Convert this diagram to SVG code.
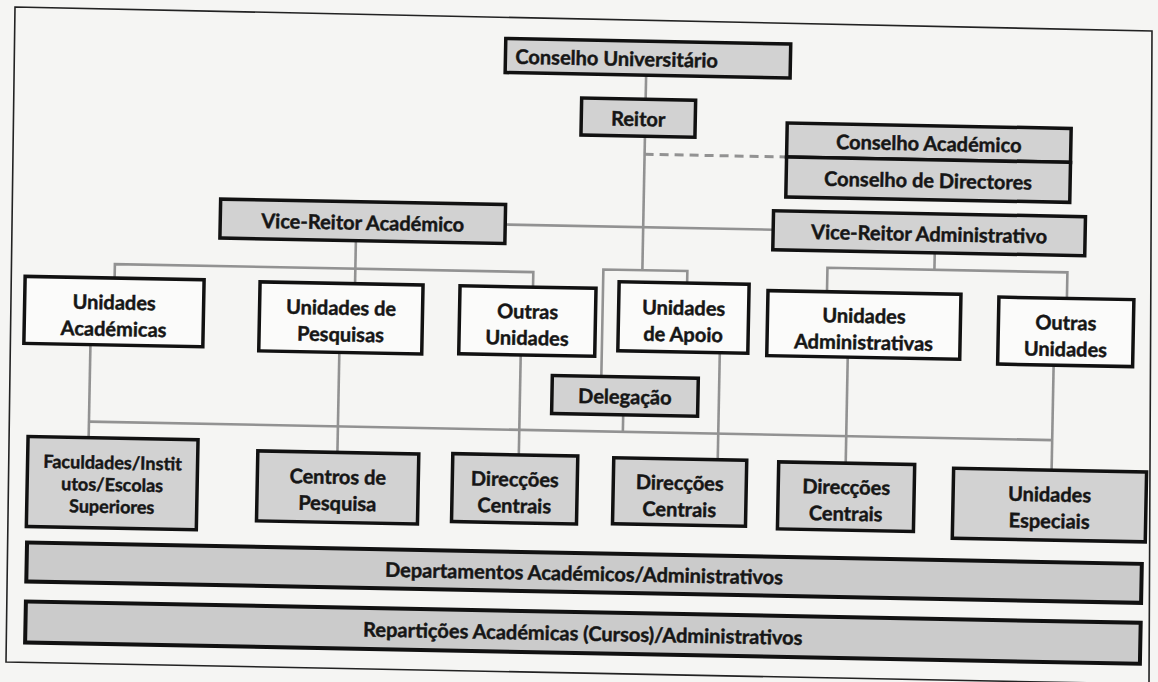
<svg xmlns="http://www.w3.org/2000/svg" width="1158" height="682" viewBox="0 0 1158 682">
<style>
.g{fill:#d2d2d2;stroke:#111;stroke-width:3.5}
.w{fill:#fbfbfa;stroke:#111;stroke-width:3.5}
.bar{fill:#cbcbcb;stroke:#111;stroke-width:4}
.t{font-family:Lato,"Open Sans",sans-serif;font-weight:bold;font-size:20px;fill:#161616;stroke:#161616;stroke-width:0.45;text-anchor:middle;dominant-baseline:central}
.s{font-size:18px}
.c{stroke:#929292;stroke-width:2.6;fill:none}
.d{stroke:#929292;stroke-width:3;fill:none;stroke-dasharray:9 6}
</style>
<rect width="1158" height="682" fill="#f5f5f3"/>
<polygon points="15,7 1152,31 1149,684 6,662" fill="none" stroke="#222" stroke-width="1.6"/>
<g transform="rotate(1.1 579 341)">
<g id="connectors">
<line class="c" x1="641" y1="74" x2="641" y2="98"/>
<line class="c" x1="641" y1="135" x2="641" y2="269"/>
<line class="d" x1="641" y1="153" x2="783" y2="153"/>
<line class="c" x1="503" y1="226" x2="771" y2="226"/>
<polyline class="c" points="602,376 602,269 686,269 686,281"/>
<line class="c" x1="354" y1="245" x2="354" y2="288"/>
<polyline class="c" points="113.5,287 113.5,273 532,273 532,288"/>
<line class="c" x1="933" y1="246" x2="933" y2="263"/>
<polyline class="c" points="826,287 826,263 1066,263 1066,289"/>
<line class="c" x1="90.6" y1="354" x2="90.6" y2="447"/>
<line class="c" x1="339.6" y1="357" x2="339.6" y2="457"/>
<line class="c" x1="521" y1="356" x2="521" y2="456"/>
<line class="c" x1="720" y1="350" x2="720" y2="457"/>
<line class="c" x1="848" y1="352" x2="848" y2="458"/>
<line class="c" x1="1054" y1="356" x2="1054" y2="461"/>
<line class="c" x1="624.6" y1="414" x2="624.6" y2="431"/>
<line class="c" x1="90.6" y1="431" x2="1054" y2="431"/>
</g>
<g id="conselho-universitario"><rect class="g" x="500" y="40" width="285" height="34"/><text class="t" x="510" y="57" style="text-anchor:start">Conselho Universitário</text></g>
<g id="reitor"><rect class="g" x="577" y="98" width="114" height="37"/><text class="t" x="634" y="117">Reitor</text></g>
<g id="conselho-academico"><rect class="g" x="783" y="119" width="284" height="34"/><text class="t" x="925" y="136">Conselho Académico</text></g>
<g id="conselho-directores"><rect class="g" x="783" y="153" width="284" height="40"/><text class="t" x="925" y="173">Conselho de Directores</text></g>
<g id="vice-reitor-academico"><rect class="g" x="218" y="206" width="285" height="39"/><text class="t" x="360.5" y="226">Vice-Reitor Académico</text></g>
<g id="vice-reitor-administrativo"><rect class="g" x="771" y="207" width="312" height="39"/><text class="t" x="927" y="226.5">Vice-Reitor Administrativo</text></g>
<g id="unidades-academicas"><rect class="w" x="24" y="287" width="179" height="67"/><text class="t" x="113.5" y="310.5">Unidades</text><text class="t" x="113.5" y="337">Académicas</text></g>
<g id="unidades-pesquisas"><rect class="w" x="259" y="288" width="163" height="69"/><text class="t" x="340.5" y="311.5">Unidades de</text><text class="t" x="340.5" y="338">Pesquisas</text></g>
<g id="outras-unidades-1"><rect class="w" x="459" y="288" width="136" height="68"/><text class="t" x="527" y="311.5">Outras</text><text class="t" x="527" y="338">Unidades</text></g>
<g id="unidades-apoio"><rect class="w" x="618" y="281" width="130" height="69"/><text class="t" x="683" y="305">Unidades</text><text class="t" x="683" y="331.5">de Apoio</text></g>
<g id="unidades-administrativas"><rect class="w" x="767" y="287" width="193" height="65"/><text class="t" x="863.5" y="309.5">Unidades</text><text class="t" x="863.5" y="336">Administrativas</text></g>
<g id="outras-unidades-2"><rect class="w" x="998" y="289" width="135" height="67"/><text class="t" x="1065.5" y="312.5">Outras</text><text class="t" x="1065.5" y="339">Unidades</text></g>
<g id="delegacao"><rect class="g" x="553" y="376" width="146" height="38"/><text class="t" x="626" y="395">Delegação</text></g>
<g id="faculdades"><rect class="g" x="30" y="447" width="170" height="90"/><text class="t s" x="115" y="471">Faculdades/Instit</text><text class="t s" x="115" y="493">utos/Escolas</text><text class="t s" x="115" y="515">Superiores</text></g>
<g id="centros-pesquisa"><rect class="g" x="260" y="457" width="161" height="70"/><text class="t" x="340.5" y="480.5">Centros de</text><text class="t" x="340.5" y="507">Pesquisa</text></g>
<g id="direccoes-centrais-1"><rect class="g" x="455" y="456" width="125" height="68"/><text class="t" x="517.5" y="479.5">Direcções</text><text class="t" x="517.5" y="506">Centrais</text></g>
<g id="direccoes-centrais-2"><rect class="g" x="616" y="457" width="133" height="66"/><text class="t" x="682.5" y="480">Direcções</text><text class="t" x="682.5" y="506.5">Centrais</text></g>
<g id="direccoes-centrais-3"><rect class="g" x="781" y="458" width="136" height="67"/><text class="t" x="849" y="481">Direcções</text><text class="t" x="849" y="507.5">Centrais</text></g>
<g id="unidades-especiais"><rect class="g" x="956" y="461" width="193" height="70"/><text class="t" x="1052.5" y="484.5">Unidades</text><text class="t" x="1052.5" y="511">Especiais</text></g>
<g id="departamentos"><rect class="bar" x="31" y="553" width="1115" height="39"/><text class="t" x="588.5" y="572.5">Departamentos Académicos/Administrativos</text></g>
<g id="reparticoes"><rect class="bar" x="31" y="612" width="1115" height="41"/><text class="t" x="588.5" y="632.5">Repartições Académicas (Cursos)/Administrativos</text></g>
</g>
</svg>
